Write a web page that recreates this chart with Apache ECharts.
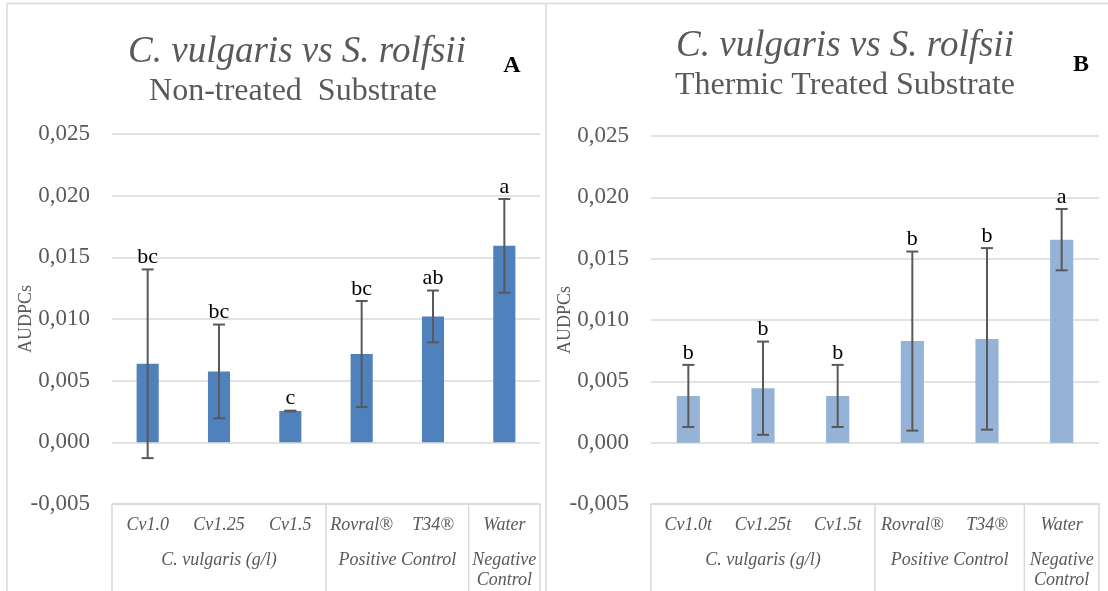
<!DOCTYPE html>
<html>
<head>
<meta charset="utf-8">
<script src="https://cdn.jsdelivr.net/npm/echarts@6/dist/echarts.min.js"></script>
<style>
html,body{margin:0;padding:0;background:#fff;}
#c{width:1108px;height:591px;}
</style>
</head>
<body>
<div id="c"></div>
<script>
// ---- data ----
const categoriesA = ['Cv1.0', 'Cv1.25', 'Cv1.5', 'Rovral®', 'T34®', 'Water'];
const valuesA = [0.00637, 0.00575, 0.00254, 0.00716, 0.01021, 0.01593];
const errorsA = [0.00765, 0.0038, 0.00003, 0.0043, 0.0021, 0.0038];
const lettersA = ['bc', 'bc', 'c', 'bc', 'ab', 'a'];

const categoriesB = ['Cv1.0t', 'Cv1.25t', 'Cv1.5t', 'Rovral®', 'T34®', 'Water'];
const valuesB = [0.00381, 0.00444, 0.00381, 0.00828, 0.00846, 0.01655];
const errorsB = [0.00253, 0.0038, 0.00253, 0.0073, 0.0074, 0.0025];
const lettersB = ['b', 'b', 'b', 'b', 'b', 'a'];

const groupNames = ['C. vulgaris (g/l)', 'Positive Control', 'Negative\nControl'];
const groupSizes = [3, 2, 1];

const yMin = -0.005, yMax = 0.025, yStep = 0.005;
const yName = 'AUDPCs';
const titleMain = 'C. vulgaris vs S. rolfsii';
const subtitleA = 'Non-treated  Substrate';
const subtitleB = 'Thermic Treated Substrate';
const panelA = 'A', panelB = 'B';

// ---- chart ----
const SERIF = '"Liberation Serif", "Times New Roman", serif';
const GRAY = '#595959';
const LINE = '#d9d9d9';
const chart = echarts.init(document.getElementById('c'), null, {renderer: 'canvas'});

function fmt(v) {
  if (Math.abs(v) < 1e-9) v = 0;
  return v.toFixed(3).replace('.', ',');
}

function yAxis(gridIndex) {
  return {
    type: 'value', gridIndex, min: yMin, max: yMax, interval: yStep,
    name: yName, nameLocation: 'middle', nameGap: 77, nameRotate: 90,
    nameMoveOverlap: false,
    nameTextStyle: {fontFamily: SERIF, fontSize: 18, color: GRAY},
    axisLine: {show: false}, axisTick: {show: false},
    axisLabel: {formatter: fmt, fontFamily: SERIF, fontSize: 23, color: GRAY, margin: 22},
    splitLine: {show: true, lineStyle: {color: LINE, width: 1.5}}
  };
}
function xAxis(gridIndex, cats) {
  return {
    type: 'category', gridIndex, data: cats,
    axisLine: {show: true, onZero: false, lineStyle: {color: LINE, width: 1.5}},
    axisTick: {show: false},
    axisLabel: {fontFamily: SERIF, fontStyle: 'italic', fontSize: 18, color: GRAY, margin: 12, interval: 0}
  };
}
function errSeries(idx, vals, errs, letters) {
  return {
    type: 'custom', xAxisIndex: idx, yAxisIndex: idx, z: 5,
    data: vals.map((v, i) => [i, v - errs[i], v + errs[i]]),
    encode: {x: 0, y: [1, 2]},
    renderItem: function (params, api) {
      const x = api.value(0);
      const lo = api.coord([x, api.value(1)]);
      const hi = api.coord([x, api.value(2)]);
      const cap = 6;
      const st = {stroke: '#595959', lineWidth: 2};
      return {
        type: 'group',
        children: [
          {type: 'line', shape: {x1: lo[0], y1: lo[1], x2: hi[0], y2: hi[1]}, style: st},
          {type: 'line', shape: {x1: lo[0] - cap, y1: lo[1], x2: lo[0] + cap, y2: lo[1]}, style: st},
          {type: 'line', shape: {x1: hi[0] - cap, y1: hi[1], x2: hi[0] + cap, y2: hi[1]}, style: st},
          {type: 'text', style: {text: letters[params.dataIndex], x: hi[0], y: hi[1] - 1,
            align: 'center', verticalAlign: 'bottom', font: '22px ' + SERIF, fill: '#000'}}
        ]
      };
    }
  };
}

chart.setOption({
  animation: false,
  grid: [
    {left: 112, right: 568, top: 134, bottom: 87},
    {left: 651, right: 9, top: 136, bottom: 87}
  ],
  xAxis: [xAxis(0, categoriesA), xAxis(1, categoriesB)],
  yAxis: [yAxis(0), yAxis(1)],
  series: [
    {type: 'bar', xAxisIndex: 0, yAxisIndex: 0, data: valuesA, barWidth: '31%',
     itemStyle: {color: '#4F81BD'}},
    {type: 'bar', xAxisIndex: 1, yAxisIndex: 1, data: valuesB, barWidth: '31%',
     itemStyle: {color: '#95B3D7'}},
    errSeries(0, valuesA, errorsA, lettersA),
    errSeries(1, valuesB, errorsB, lettersB)
  ]
});

// ---- decorations: frames, group boxes, titles ----
const H = 591;
const g = [];
function line(x1, y1, x2, y2) {
  g.push({type: 'line', shape: {x1, y1, x2, y2}, style: {stroke: LINE, lineWidth: 1.5}, silent: true});
}
function text(t, x, y, font, fill, align, va, lh) {
  g.push({type: 'text', x, y, style: {text: t, font, fill, align: align || 'center',
    verticalAlign: va || 'middle', lineHeight: lh}, silent: true});
}
// outer frames
line(7, 3.5, 1108, 3.5);
line(7, 3.5, 7, H);
line(546, 3.5, 546, H);

[0, 1].forEach(function (k) {
  const c0 = chart.convertToPixel({xAxisIndex: k}, 0);
  const c1 = chart.convertToPixel({xAxisIndex: k}, 1);
  const bw = c1 - c0;
  const yAxisPx = chart.convertToPixel({yAxisIndex: k}, yMin);
  let start = 0;
  const bounds = [0];
  groupSizes.forEach(function (s) { start += s; bounds.push(start); });
  bounds.forEach(function (b) {
    const x = c0 - bw / 2 + b * bw;
    line(x, yAxisPx, x, H);
  });
  groupNames.forEach(function (name, i) {
    const xa = c0 - bw / 2 + bounds[i] * bw;
    const xb = c0 - bw / 2 + bounds[i + 1] * bw;
    text(name, (xa + xb) / 2, 550, 'italic 18px ' + SERIF, GRAY, 'center', 'top', 20);
  });
});

// titles
text(titleMain, 297, 52, 'italic 37px ' + SERIF, GRAY);
text(subtitleA, 293, 92, '32px ' + SERIF, GRAY);
text(panelA, 512, 66, 'bold 24px ' + SERIF, '#000');
text(titleMain, 845, 46, 'italic 37px ' + SERIF, GRAY);
text(subtitleB, 845, 86, '32px ' + SERIF, GRAY);
text(panelB, 1081, 65, 'bold 24px ' + SERIF, '#000');

chart.setOption({graphic: g});
</script>
</body>
</html>
